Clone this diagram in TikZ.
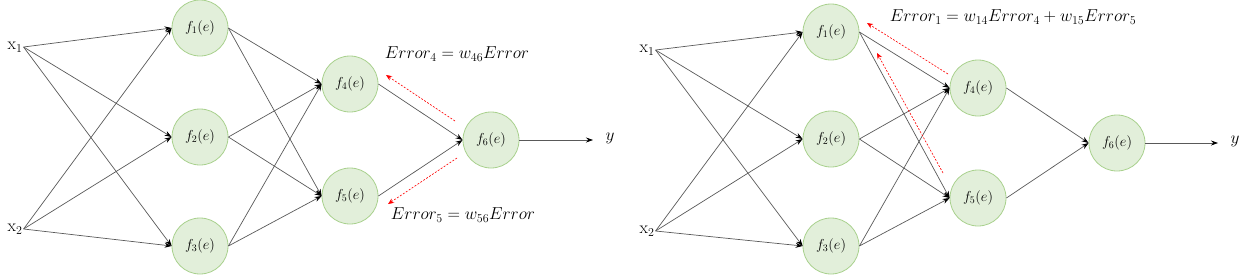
\documentclass[tikz,border=0pt]{standalone}
\usetikzlibrary{arrows.meta}

\definecolor{nfill}{HTML}{E2EFDA}
\definecolor{nline}{HTML}{A9D18E}
\definecolor{wire}{HTML}{595959}

\tikzset{
  neuron/.style={circle, draw=nline, fill=nfill, line width=0.8pt,
    minimum size=56pt, inner sep=0pt, font=\fontsize{14}{16}\selectfont},
  inlabel/.style={inner sep=1pt, font=\fontsize{18}{20}\selectfont},
  wght/.style={draw=wire, line width=0.7pt, -{Stealth[length=7pt,width=5pt,black]}},
  backerr/.style={draw=red, dash pattern=on 2pt off 1.5pt, line width=0.6pt,
    -{Stealth[length=6pt,width=5pt,red]}},
  errlabel/.style={inner sep=0pt, font=\fontsize{17.5}{20}\selectfont},
}

\begin{document}
\begin{tikzpicture}[x=1pt, y=-1pt]
  \useasboundingbox (0,0) rectangle (1251,274);

  % forward pass (left)
  \node[inlabel] (x1) at (15, 47) {$\mathrm{x}_1$};
  \node[inlabel] (x2) at (15, 229) {$\mathrm{x}_2$};
  \node[neuron] (f1) at (200, 28) {$f_1(e)$};
  \node[neuron] (f2) at (200, 137) {$f_2(e)$};
  \node[neuron] (f3) at (200, 246) {$f_3(e)$};
  \node[neuron] (f4) at (350, 84) {$f_4(e)$};
  \node[neuron] (f5) at (350, 196) {$f_5(e)$};
  \node[neuron] (f6) at (491, 140) {$f_6(e)$};
  \node[inlabel] (y) at (610, 138) {$y$};
  \coordinate (yend) at (593, 140);

  \foreach \i in {x1, x2} {
    \foreach \j in {f1, f2, f3} {
      \draw[wght] (\i.east) -- (\j.west);
    }
  }
  \foreach \i in {f1, f2, f3} {
    \foreach \j in {f4, f5} {
      \draw[wght] (\i.east) -- (\j.west);
    }
  }
  \draw[wght] (f4.east) -- (f6.west);
  \draw[wght] (f5.east) -- (f6.west);
  \draw[wght] (f6.east) -- (yend);

  \coordinate (e4s) at (455, 121);
  \coordinate (e4t) at (386, 75);
  \coordinate (e5s) at (457, 158);
  \coordinate (e5t) at (388, 204);
  \draw[backerr] (e4s) -- (e4t);
  \draw[backerr] (e5s) -- (e5t);
  \node[errlabel] (err4) at (457, 54) {$Error_4 = w_{46}Error$};
  \node[errlabel] (err5) at (463, 215) {$Error_5 = w_{56}Error$};

  % back propagation (right)
  \node[inlabel] (rx1) at (647, 50) {$\mathrm{x}_1$};
  \node[inlabel] (rx2) at (647, 231) {$\mathrm{x}_2$};
  \node[neuron] (rf1) at (831, 32) {$f_1(e)$};
  \node[neuron] (rf2) at (831, 139) {$f_2(e)$};
  \node[neuron] (rf3) at (831, 246) {$f_3(e)$};
  \node[neuron] (rf4) at (978, 88) {$f_4(e)$};
  \node[neuron] (rf5) at (978, 198) {$f_5(e)$};
  \node[neuron] (rf6) at (1117, 143) {$f_6(e)$};
  \node[inlabel] (ry) at (1235, 141) {$y$};
  \coordinate (ryend) at (1218, 143);

  \foreach \i in {rx1, rx2} {
    \foreach \j in {rf1, rf2, rf3} {
      \draw[wght] (\i.east) -- (\j.west);
    }
  }
  \foreach \i in {rf1, rf2, rf3} {
    \foreach \j in {rf4, rf5} {
      \draw[wght] (\i.east) -- (\j.west);
    }
  }
  \draw[wght] (rf4.east) -- (rf6.west);
  \draw[wght] (rf5.east) -- (rf6.west);
  \draw[wght] (rf6.east) -- (ryend);

  \coordinate (e14s) at (948, 74);
  \coordinate (e14t) at (867, 23);
  \coordinate (e15s) at (943, 173);
  \coordinate (e15t) at (877, 53);
  \draw[backerr] (e14s) -- (e14t);
  \draw[backerr] (e15s) -- (e15t);
  \node[errlabel] (err1) at (1013, 17) {$Error_1 = w_{14}Error_4 + w_{15}Error_5$};
\end{tikzpicture}
\end{document}
